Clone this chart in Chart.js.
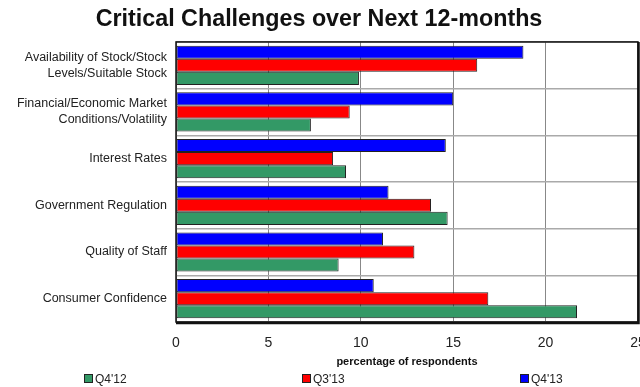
<!DOCTYPE html>
<html>
<head>
<meta charset="utf-8">
<script src="https://cdn.jsdelivr.net/npm/chart.js@4/dist/chart.umd.min.js"></script>
<style>
    html, body {margin: 0; padding: 0; background: #fff; overflow: hidden;}
    #wrap {position: relative; width: 640px; height: 387px; overflow: hidden;}
    #box {position: absolute; left: 0; top: 0; width: 640px; height: 387px;}
    #legend {position: absolute; left: 0; top: 373px; width: 640px; height: 14px;
        font-family: "Liberation Sans", Arial, sans-serif; font-size: 12px; color: #222;}
    .item {position: absolute; top: 0; line-height: 13px; white-space: nowrap;}
    .item i {display: inline-block; width: 7px; height: 7px; border: 1px solid #222;
        margin-right: 2px; vertical-align: 0px;}
</style>
</head>
<body>
<div id="wrap">
    <div id="box"><canvas id="chart"></canvas></div>
    <div id="legend"></div>
</div>
<script>
const categories = [
    ["Availability of Stock/Stock", "Levels/Suitable Stock"],
    ["Financial/Economic Market", "Conditions/Volatility"],
    "Interest Rates",
    "Government Regulation",
    "Quality of Staff",
    "Consumer Confidence"
];
const q4_13 = [18.8, 15.0, 14.6, 11.5, 11.2, 10.7];
const q3_13 = [16.3, 9.4, 8.5, 13.8, 12.9, 16.9];
const q4_12 = [9.9, 7.3, 9.2, 14.7, 8.8, 21.7];
const xTicks = [0, 5, 10, 15, 20, 25];

const FONT = "'Liberation Sans', Arial, sans-serif";

// frame round the plot, heavier on the right and bottom
let plotFramePlugin = {
    id: "plotFrame",
    afterDatasetsDraw: (chart) => {
        const {ctx, chartArea: {left, top, right, bottom}} = chart;
        ctx.save();
        ctx.strokeStyle = "#111";
        ctx.lineWidth = 1.5;
        ctx.strokeRect(left, top, right - left, bottom - top);
        ctx.lineWidth = 2.5;
        ctx.beginPath();
        ctx.moveTo(right + 0.5, top);
        ctx.lineTo(right + 0.5, bottom + 1);
        ctx.lineTo(left, bottom + 1);
        ctx.stroke();
        ctx.restore();
    }
}

let datasets = [
    {label: "Q4'13", data: q4_13, backgroundColor: "#0000ff"},
    {label: "Q3'13", data: q3_13, backgroundColor: "#ff0000"},
    {label: "Q4'12", data: q4_12, backgroundColor: "#339966"}
].map(ds => Object.assign(ds, {
    borderColor: "#222",
    borderWidth: 1,
    borderSkipped: false,
    categoryPercentage: 0.84,
    barPercentage: 1.0
}));

let chart = new Chart(document.getElementById("chart"), {
    type: "bar",
    data: {labels: categories, datasets: datasets},
    plugins: [plotFramePlugin],
    options: {
        indexAxis: "y",
        responsive: true,
        maintainAspectRatio: false,
        animation: false,
        layout: {padding: {top: 0, bottom: 18, left: 0, right: 2}},
        plugins: {
            legend: {display: false},
            tooltip: {enabled: false},
            title: {
                display: true,
                text: "Critical Challenges over Next 12-months",
                color: "#111",
                font: {family: FONT, size: 23.3, weight: "bold"},
                padding: {top: 6, bottom: 8}
            }
        },
        scales: {
            x: {
                min: 0,
                max: 25,
                afterBuildTicks: (scale) => {
                    scale.ticks = xTicks.map(v => ({value: v}));
                },
                afterFit: (scale) => {
                    // let the last tick label run off the edge
                    scale.height = 47;
                    scale.paddingRight = 0;
                },
                grid: {color: "#888", lineWidth: 1, drawTicks: false},
                border: {display: false},
                ticks: {color: "#222", padding: 13, font: {family: FONT, size: 14}},
                title: {
                    display: true,
                    text: "percentage of respondents",
                    color: "#111",
                    font: {family: FONT, size: 11, weight: "bold"},
                    padding: {top: 0, bottom: 0}
                }
            },
            y: {
                afterFit: (scale) => {
                    scale.width = 176;
                },
                grid: {color: "#aaa", lineWidth: 1.5, drawTicks: false, offset: true},
                border: {display: false},
                ticks: {
                    color: "#222",
                    padding: 9,
                    autoSkip: false,
                    font: {family: FONT, size: 12.5, lineHeight: 1.28}
                }
            }
        }
    }
});

// legend row along the bottom, oldest period first
const legendLeft = [84, 302, 520];
const legendEl = document.getElementById("legend");
datasets.slice().reverse().forEach((ds, i) => {
    let item = document.createElement("span");
    item.className = "item";
    item.style.left = legendLeft[i] + "px";
    item.innerHTML = `<i style="background:${ds.backgroundColor}"></i>${ds.label}`;
    legendEl.appendChild(item);
});
</script>
</body>
</html>
